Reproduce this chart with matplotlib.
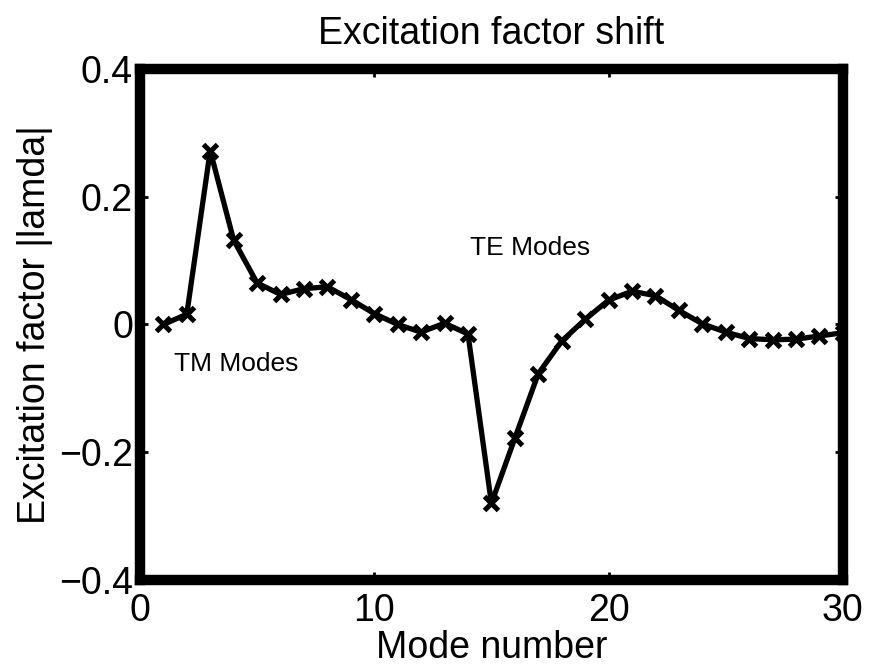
import numpy as np
import matplotlib; matplotlib.use('Agg'); import matplotlib.pyplot as plt

plt.rcParams['font.family'] = ['Liberation Sans', 'DejaVu Sans']

# ---------------- data ----------------
mode = np.arange(1, 31)
shift = [0.000, 0.016, 0.272, 0.132, 0.065, 0.047, 0.056, 0.059, 0.039, 0.017,
         0.000, -0.012, 0.002, -0.015, -0.280, -0.178, -0.077, -0.026, 0.008, 0.038,
         0.052, 0.045, 0.022, 0.001, -0.012, -0.022, -0.024, -0.023, -0.018, -0.013]
xticks = [0, 10, 20, 30]
yticks = [-0.4, -0.2, 0, 0.2, 0.4]
ytick_labels = ['\u22120.4', '\u22120.2', '0', '0.2', '0.4']

fig = plt.figure(figsize=(8.69, 6.69), dpi=100)
ax = fig.add_axes([0.161, 0.133, 0.809, 0.764])

ax.plot(mode, shift, '-', color='k', lw=3.8, marker='x', ms=10, mew=3.6)

ax.text(1.45, -0.062, 'TM Modes', fontsize=19, va='center', ha='left')
ax.text(14.1, 0.12, 'TE Modes', fontsize=19, va='center', ha='left')

ax.set_xlim(0, 30)
ax.set_ylim(-0.4, 0.4)
ax.set_xticks(xticks)
ax.set_yticks(yticks)
ax.set_yticklabels(ytick_labels)
ax.tick_params(direction='in', top=True, right=True, length=6, width=2,
               labelsize=27)
ax.tick_params(axis='x', pad=9)
ax.tick_params(axis='y', pad=5)
for s in ax.spines.values():
    s.set_linewidth(7.5)

ax.set_xlabel('Mode number', fontsize=27, labelpad=1)
ax.set_ylabel('Excitation factor |lamda|', fontsize=27, labelpad=4)
ax.set_title('Excitation factor shift', fontsize=27, pad=18)

fig.savefig('out.png', dpi=100)
